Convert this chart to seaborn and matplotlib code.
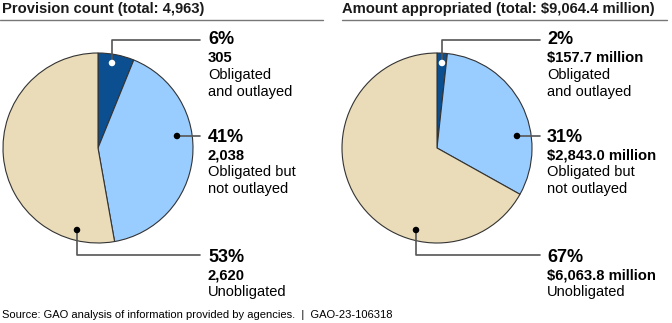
import matplotlib
matplotlib.use("Agg")
import matplotlib.pyplot as plt
import seaborn as sns
import numpy as np

sns.set_theme(style="white")
plt.rcParams['font.family'] = ['Liberation Sans', 'DejaVu Sans']

# ---- data ----
categories = ["Obligated\nand outlayed", "Obligated but\nnot outlayed", "Unobligated"]
count_values = [305, 2038, 2620]
count_labels = ["305", "2,038", "2,620"]
amount_values = [157.7, 2843.0, 6063.8]
amount_labels = ["$157.7 million", "$2,843.0 million", "$6,063.8 million"]
titles = ["Provision count (total: 4,963)", "Amount appropriated (total: $9,064.4 million)"]
source_text = "Source: GAO analysis of information provided by agencies.  |  GAO-23-106318"

colors = ["#0B4F91", "#99CCFF", "#EADCB8"]
dot_colors = ["white", "black", "black"]

W, H = 672, 323
fig = plt.figure(figsize=(W / 100, H / 100), dpi=100)
ax = fig.add_axes([0, 0, 1, 1])
ax.set_xlim(0, W)
ax.set_ylim(0, H)
ax.axis("off")

def Y(y):
    return H - y

panels = [
    dict(values=count_values, labels=count_labels, cx=98, cy=148, r=95,
         x0=0, x1=323, tx=2, lx=200, textx=208,
         dots=[(112, 63), (177, 136), (77, 230)]),
    dict(values=amount_values, labels=amount_labels, cx=437, cy=148, r=95,
         x0=342, x1=667, tx=342, lx=540, textx=547,
         dots=[(442, 63), (517, 136), (416, 230)]),
]
leader_y = [40, 136, 255]
line_color = "#555555"

for p, title in zip(panels, titles):
    vals = np.array(p["values"], dtype=float)
    ax.pie(vals, colors=colors, startangle=90, counterclock=False,
           center=(p["cx"], Y(p["cy"])), radius=p["r"],
           wedgeprops=dict(edgecolor="#333333", linewidth=0.8))
    ax.set_xlim(0, W)
    ax.set_ylim(0, H)
    # title and rule
    ax.text(p["tx"], Y(9), title, fontsize=10.6, fontweight="bold",
            color="#1a1a1a", va="center", ha="left")
    ax.plot([p["x0"], p["x1"]], [Y(19.5), Y(19.5)], color="#777777", lw=1)
    pct = np.round(vals / vals.sum() * 100).astype(int)
    for i in range(3):
        dx, dy = p["dots"][i]
        ly = leader_y[i]
        if i == 1:
            ax.plot([dx, p["lx"]], [Y(dy), Y(dy)], color=line_color, lw=1.2, zorder=5)
        else:
            ax.plot([dx, dx, p["lx"]], [Y(dy), Y(ly), Y(ly)], color=line_color, lw=1.2, zorder=5)
        ax.scatter([dx], [Y(dy)], s=22, color=dot_colors[i], edgecolors="none", zorder=6)
        base = [40, 137, 257][i]
        ax.text(p["textx"], Y(base), f"{pct[i]}%", fontsize=13, fontweight="bold",
                va="center", ha="left", color="black")
        ax.text(p["textx"], Y(base + 18), p["labels"][i], fontsize=10.6, fontweight="bold",
                va="center", ha="left", color="black")
        l1, l2 = (categories[i].split("\n") + [""])[:2]
        ax.text(p["textx"], Y(base + 35), l1, fontsize=10.5,
                va="center", ha="left", color="black")
        if l2:
            ax.text(p["textx"], Y(base + 52), l2, fontsize=10.5,
                    va="center", ha="left", color="black")

ax.text(2, Y(315), source_text, fontsize=8, va="center", ha="left", color="black")

fig.savefig("out.png", dpi=100)
